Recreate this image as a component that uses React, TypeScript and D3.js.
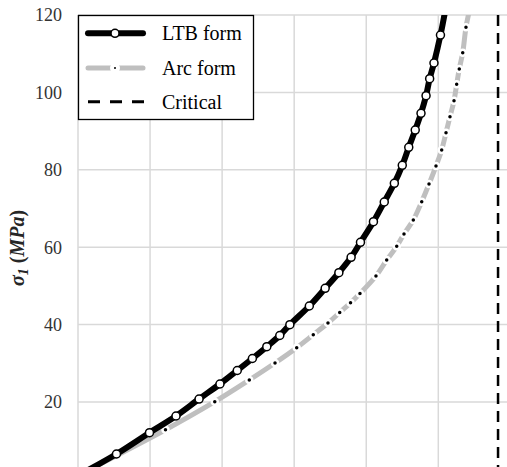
import React, { useEffect, useRef } from "react";
import * as d3 from "d3";

// y axis ticks
const yTicks = [20, 40, 60, 80, 100, 120];
// x gridlines (no labels shown in the figure)
const xGrid = [0, 1, 2, 3, 4, 5];

// LTB form
const ltbX = [0.05, 0.534, 0.992, 1.36, 1.68, 1.97, 2.21, 2.42, 2.62, 2.8, 2.94, 3.21, 3.43, 3.62, 3.79, 3.92, 4.1, 4.25, 4.39, 4.5, 4.59, 4.68, 4.76, 4.83, 4.88, 4.94, 5.03, 5.1];
const ltbY = [1.5, 6.56, 12.07, 16.38, 20.77, 24.65, 28.14, 31.24, 34.29, 37.18, 39.97, 44.81, 49.38, 53.41, 57.39, 61.26, 66.59, 71.68, 76.51, 81.16, 85.81, 90.28, 94.6, 99.15, 103.54, 107.6, 114.8, 121.5];

// Arc form
const arcX = [0.08, 1.214, 1.898, 2.377, 2.734, 3.035, 3.265, 3.469, 3.632, 3.782, 3.913, 4.135, 4.284, 4.423, 4.524, 4.653, 4.77, 4.871, 4.968, 5.047, 5.107, 5.162, 5.218, 5.255, 5.291, 5.339, 5.384, 5.433];
const arcY = [1.8, 12.82, 20.08, 25.69, 30.08, 34.03, 37.39, 40.41, 43.13, 45.63, 48.04, 52.56, 56.69, 60.23, 63.41, 67.03, 71.76, 76.33, 80.98, 85.12, 89.59, 93.72, 97.86, 102.09, 106.05, 110.26, 116.82, 121.3];

// Critical
const criticalX = 5.829;

const legendLabels = ["LTB form", "Arc form", "Critical"];

const W = 507;
const H = 467;
const left = 78;
const top = 15;

const App = () => {
  const ref = useRef(null);

  useEffect(() => {
    const svg = d3.select(ref.current);
    svg.selectAll("*").remove();

    const x = d3.scaleLinear().domain([0, 1]).range([left, left + 72.06]);
    const y = d3.scaleLinear().domain([0, 120]).range([479.4, top]);

    svg
      .append("defs")
      .append("clipPath")
      .attr("id", "plot")
      .append("rect")
      .attr("x", left)
      .attr("y", top)
      .attr("width", W - left)
      .attr("height", H - top);

    // grid
    const grid = svg.append("g").attr("stroke", "#d9d9d9").attr("stroke-width", 1.5);
    grid
      .selectAll(".gx")
      .data(xGrid)
      .join("line")
      .attr("x1", d => x(d))
      .attr("x2", d => x(d))
      .attr("y1", top)
      .attr("y2", H);
    grid
      .selectAll(".gy")
      .data(yTicks)
      .join("line")
      .attr("x1", left)
      .attr("x2", W)
      .attr("y1", d => y(d))
      .attr("y2", d => y(d));

    // y tick labels
    svg
      .append("g")
      .selectAll("text")
      .data(yTicks)
      .join("text")
      .attr("x", 62)
      .attr("y", d => y(d))
      .attr("dy", "0.35em")
      .attr("text-anchor", "end")
      .attr("font-family", "'Liberation Serif', serif")
      .attr("font-size", 18)
      .attr("fill", "#333")
      .text(d => d);

    const plot = svg.append("g").attr("clip-path", "url(#plot)");

    const arcPts = arcX.map((v, i) => [x(v), y(arcY[i])] as [number, number]);
    const ltbPts = ltbX.map((v, i) => [x(v), y(ltbY[i])] as [number, number]);
    const path = d3.line().curve(d3.curveCatmullRom);

    plot
      .append("path")
      .attr("d", path(arcPts))
      .attr("fill", "none")
      .attr("stroke", "#bfbfbf")
      .attr("stroke-width", 5);
    plot
      .selectAll(".am")
      .data(arcPts)
      .join("circle")
      .attr("cx", d => d[0])
      .attr("cy", d => d[1])
      .attr("r", 3)
      .attr("fill", "#000")
      .attr("stroke", "#fff")
      .attr("stroke-width", 2.5);

    plot
      .append("path")
      .attr("d", path(ltbPts))
      .attr("fill", "none")
      .attr("stroke", "#000")
      .attr("stroke-width", 6);
    plot
      .selectAll(".lm")
      .data(ltbPts)
      .join("circle")
      .attr("cx", d => d[0])
      .attr("cy", d => d[1])
      .attr("r", 4)
      .attr("fill", "#fff")
      .attr("stroke", "#000")
      .attr("stroke-width", 1.5);

    plot
      .append("line")
      .attr("x1", x(criticalX))
      .attr("x2", x(criticalX))
      .attr("y1", top)
      .attr("y2", H)
      .attr("stroke", "#000")
      .attr("stroke-width", 2.5)
      .attr("stroke-dasharray", "11,7");

    // legend
    const lg = svg.append("g");
    lg.append("rect")
      .attr("x", 78.5)
      .attr("y", 15.5)
      .attr("width", 175)
      .attr("height", 104)
      .attr("fill", "#fff")
      .attr("stroke", "#000")
      .attr("stroke-width", 1.3);
    const rows = [33.3, 68, 101.7];
    lg.append("line")
      .attr("x1", 88).attr("x2", 143).attr("y1", rows[0]).attr("y2", rows[0])
      .attr("stroke", "#000").attr("stroke-width", 6).attr("stroke-linecap", "round");
    lg.append("circle")
      .attr("cx", 115).attr("cy", rows[0]).attr("r", 4)
      .attr("fill", "#fff").attr("stroke", "#000").attr("stroke-width", 1.5);
    lg.append("line")
      .attr("x1", 88).attr("x2", 143).attr("y1", rows[1]).attr("y2", rows[1])
      .attr("stroke", "#bfbfbf").attr("stroke-width", 5).attr("stroke-linecap", "round");
    lg.append("circle")
      .attr("cx", 115).attr("cy", rows[1]).attr("r", 3)
      .attr("fill", "#000").attr("stroke", "#fff").attr("stroke-width", 4);
    lg.append("line")
      .attr("x1", 88).attr("x2", 144).attr("y1", rows[2]).attr("y2", rows[2])
      .attr("stroke", "#000").attr("stroke-width", 3).attr("stroke-dasharray", "12,10");
    lg.selectAll("text")
      .data(legendLabels)
      .join("text")
      .attr("x", 162)
      .attr("y", (d, i) => rows[i])
      .attr("dy", "0.35em")
      .attr("font-family", "'Liberation Serif', serif")
      .attr("font-size", 20)
      .attr("fill", "#000")
      .text(d => d);

    // y axis title
    const t = svg
      .append("text")
      .attr("transform", "translate(24,248) rotate(-90)")
      .attr("text-anchor", "middle")
      .attr("font-family", "'Liberation Serif', serif")
      .attr("font-size", 20)
      .attr("font-weight", "bold")
      .attr("fill", "#262626");
    t.append("tspan").attr("font-style", "italic").text("σ");
    t.append("tspan").attr("font-style", "italic").attr("font-size", 14).attr("dy", 4).text("1");
    t.append("tspan").attr("dy", -4).text(" (");
    t.append("tspan").attr("font-style", "italic").text("MPa");
    t.append("tspan").text(")");
  }, []);

  return (
    <svg
      ref={ref}
      width={W}
      height={H}
      style={{ position: "absolute", left: 0, top: 0, background: "#fff" }}
    />
  );
};

export default App;
